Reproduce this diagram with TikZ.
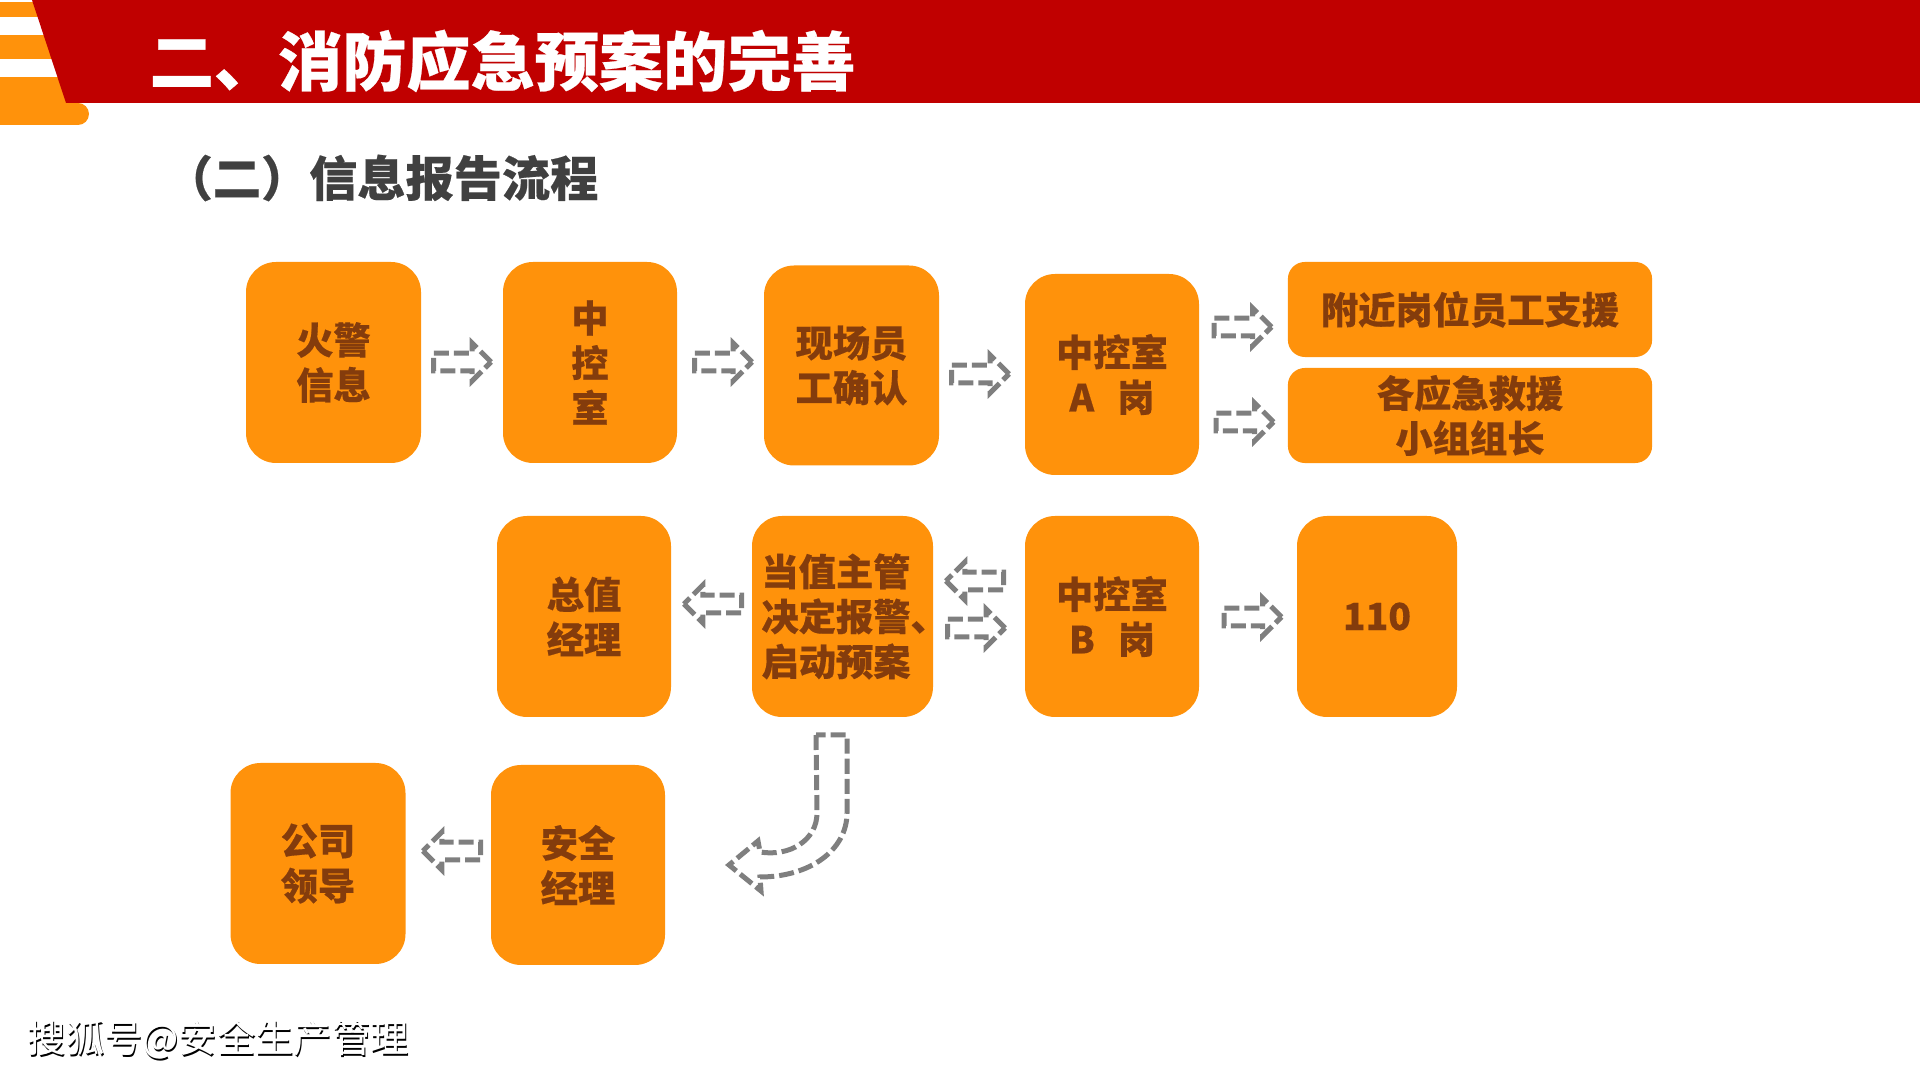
\documentclass[tikz,border=0pt]{standalone}
\usepackage{fontspec}
\usetikzlibrary{shapes.arrows}
\setmainfont{Noto Sans CJK SC}[BoldFeatures={FakeBold=0.4}]
\definecolor{barred}{HTML}{C00000}
\definecolor{coneorange}{HTML}{FF920B}
\definecolor{boxtext}{HTML}{843C0C}
\definecolor{arrowgray}{HTML}{7F7F7F}
\definecolor{headgray}{HTML}{404040}
\tikzset{
    stepbox/.style={fill=coneorange, text=boxtext, rounded corners=0.3cm, align=center, inner sep=0pt,
        font=\bfseries\fontsize{10.6}{12.8}\selectfont},
    flowarrow/.style={single arrow, draw=arrowgray, dash pattern=on 0.15cm off 0.05cm, line width=0.05cm,
        minimum height=0.575cm, inner sep=0.064cm, single arrow head extend=0.1cm},
    outlinearrow/.style={draw=arrowgray, dash pattern=on 0.15cm off 0.05cm, line width=0.05cm},
}
\begin{document}
\begin{tikzpicture}[x=0.01cm,y=-0.01cm]
        \useasboundingbox (0,0) rectangle (1920,1080);
        % header
            \fill[coneorange] (0,103) -- (78,103) arc (-90:90:11) -- (0,125) -- cycle;
            \fill[coneorange] (0,2) rectangle (66,103);
            \fill[white] (0,17) rectangle (50,35);
            \fill[white] (0,59) rectangle (60,77);
            \fill[barred] (32,0) -- (1920,0) -- (1920,103) -- (66,103) -- cycle;
            \node[anchor=west, text=white, inner sep=0pt, font=\bfseries\fontsize{18.25}{22}\selectfont] (title) at (149,61) {二、消防应急预案的完善};
            \node[anchor=west, text=headgray, inner sep=0pt, font=\bfseries\fontsize{13.7}{16}\selectfont] (subtitle) at (164,178) {（二）信息报告流程};
        % boxes
            \foreach \n/\x/\y/\w/\h/\t in {
                fire/333.5/362.5/175/201/{火警\\信息},
                room/590/362.5/174/201/{中\\控\\室},
                staff/851.5/365.5/175/200/{现场员\\工确认},
                posta/1112/374.5/174/201/{中控室\\A\ \ \hspace{0.06cm}岗},
                total/584/616.5/174/201/{总值\\经理},
                duty/842.5/616.5/181/201/{当值主管\rule{0.13cm}{0pt}\\决定报警\rlap{、}\rule{0.13cm}{0pt}\\启动预案\rule{0.13cm}{0pt}},
                postb/1112/616.5/174/201/{中控室\\B\ \ \hspace{0.06cm}岗},
                police/1377/616.5/160/201/{110},
                leader/318/863.5/175/201/{公司\\领导},
                safety/578/865/174/200/{安全\\经理}}{
                \node[stepbox, minimum width=\w*0.01cm, minimum height=\h*0.01cm] (\n) at (\x,\y) {\t};
            }
            \node[stepbox, rounded corners=0.17cm, minimum width=3.64cm, minimum height=0.95cm] (nearby) at (1470,309.5) {附近岗位员工支援};
            \node[stepbox, rounded corners=0.17cm, minimum width=3.64cm, minimum height=0.95cm] (groups) at (1470,415.5) {各应急救援\\小组组长};
        % arrows
            \foreach \n/\x/\y/\r in {
                af/431/362/0, ar/692/362/0, as/949/374/0, an/1211.5/327/0, ag/1213.5/422/0,
                at/744/604/180, ad/1006/581/180, ab/945/628/0, ap/1221.5/617/0, al/483/851/180}{
                \node[flowarrow, anchor=tail, shape border rotate=\r] (\n) at (\x,\y) {};
            }
            \draw[outlinearrow] (816,735) -- (817,813) .. controls (817,840) and (790,857) .. (760,852)
                -- (758,841) -- (729,865) -- (761,891) -- (760,877)
                .. controls (810,877) and (847,850) .. (847,813) -- (847,735) -- cycle;
        % watermark
            \node[anchor=west, text=black, inner sep=0pt, font=\fontsize{10.9}{13}\selectfont] (markshadow) at (28,1041.5) {搜狐号@安全生产管理};
            \node[anchor=west, text=white, inner sep=0pt, font=\fontsize{10.9}{13}\selectfont] (mark) at (27,1040) {搜狐号@安全生产管理};
        \end{tikzpicture}
\end{document}
